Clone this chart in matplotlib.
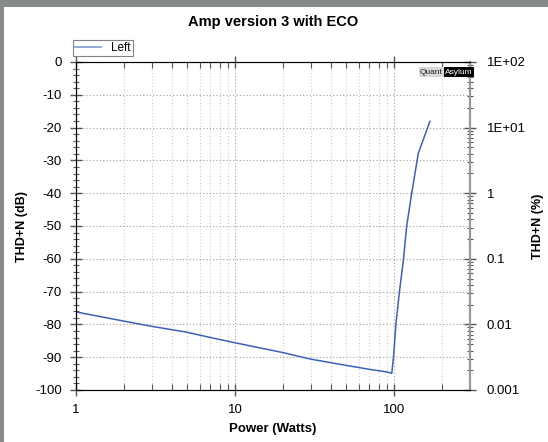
import numpy as np
import matplotlib
matplotlib.use("Agg")
import matplotlib.pyplot as plt
from matplotlib.ticker import FixedLocator, NullFormatter, FixedFormatter, LogLocator

plt.rcParams['font.family'] = ['Liberation Sans', 'DejaVu Sans']
plt.rcParams['axes.unicode_minus'] = False

power_w = [1, 2, 3, 5, 7, 10, 20, 30, 50, 70, 90, 96.7, 99.5, 102.4, 108, 114.5, 120, 129, 142, 168]
thd_db = [-76.2, -79.0, -80.6, -82.4, -84.0, -85.6, -88.6, -90.6, -92.5, -93.7, -94.5, -94.9,
          -89.0, -80.4, -70.0, -60.2, -50.0, -40.0, -27.8, -18.1]
series_name = "Left"
x_ticks = [1, 10, 100]
x_ticklabels = ["1", "10", "100"]
y_ticks = list(range(-100, 1, 10))
y_ticklabels = [str(v) for v in y_ticks]
pct_ticks = [0.001, 0.01, 0.1, 1, 10, 100]
pct_labels = ["0.001", "0.01", "0.1", "1", "1E+01", "1E+02"]

fig = plt.figure(figsize=(5.48, 4.42), dpi=100)
fig.patch.set_facecolor('#878b88')
fig.patches.append(matplotlib.patches.Rectangle((4/548, 0), 1, 1 - 7/442, transform=fig.transFigure,
                                                 facecolor='white', edgecolor='none', zorder=-10))

ax = fig.add_axes([76/548, 1 - 390/442, (470 - 76)/548, (390 - 62)/442])
ax.set_facecolor('none')
ax.set_xscale('log')
ax.set_xlim(1, 300)
ax.set_ylim(-100, 0)

line_col = '#3d60b8'
ax.plot(power_w, thd_db, color=line_col, lw=1.1, zorder=3)

ax.xaxis.set_major_locator(FixedLocator(x_ticks))
ax.xaxis.set_major_formatter(FixedFormatter(x_ticklabels))
ax.xaxis.set_minor_locator(LogLocator(base=10, subs=np.arange(2, 10)))
ax.xaxis.set_minor_formatter(NullFormatter())
ax.yaxis.set_major_locator(FixedLocator(y_ticks))
ax.yaxis.set_major_formatter(FixedFormatter(y_ticklabels))
ax.set_yticks(np.arange(-100, 1, 2), minor=True)
ax.grid(True, which='major', axis='both', color='#a0a0a0', linestyle=(0, (1, 2)), lw=0.8)
ax.grid(True, which='minor', axis='x', color='#cccccc', linestyle=(0, (1, 2)), lw=0.8)

tc = '#555555'
ax.tick_params(axis='both', which='major', direction='inout', length=8, width=1, color=tc,
               labelsize=9.5, pad=6, top=True)
ax.tick_params(axis='x', which='minor', direction='in', length=4, width=0.8, color=tc, top=True)
ax.tick_params(axis='y', which='minor', direction='inout', length=5, width=0.8, color=tc)
for side in ['left', 'bottom', 'top']:
    ax.spines[side].set_color('#666666')
ax.spines['right'].set_color('#999999')
ax.spines['right'].set_linewidth(1.5)

ax.set_xlabel('Power (Watts)', fontsize=9.5, fontweight='bold')
ax.xaxis.set_label_coords(0.5, -(423 - 390) / 328)
ax.set_ylabel('THD+N (dB)', fontsize=9, fontweight='bold', va='center')
ax.yaxis.set_label_coords((21.5 - 76) / 394, 0.5)

ax2 = ax.twinx()
ax2.set_yscale('log')
ax2.set_ylim(0.001, 100)
ax2.yaxis.set_major_locator(FixedLocator(pct_ticks))
ax2.yaxis.set_major_formatter(FixedFormatter(pct_labels))
ax2.yaxis.set_minor_locator(LogLocator(base=10, subs=np.arange(2, 10)))
ax2.yaxis.set_minor_formatter(NullFormatter())
ax2.tick_params(axis='y', which='major', direction='inout', length=8, width=1, color=tc,
                labelsize=9.5, pad=8)
ax2.tick_params(axis='y', which='minor', direction='inout', length=5, width=0.8, color=tc)
ax2.spines['right'].set_color('#999999')
ax2.spines['right'].set_linewidth(1.5)
ax2.set_ylabel('THD+N (%)', fontsize=9, fontweight='bold', va='center')
ax2.yaxis.set_label_coords((538 - 76) / 394, 0.5)

fig.text(273/548, 1 - 22/442, 'Amp version 3 with ECO', ha='center', va='center',
         fontsize=10.5, fontweight='bold')

leg = ax.legend([matplotlib.lines.Line2D([], [], color='#7f9ad0', lw=1.2)], [series_name],
                loc='lower left', bbox_to_anchor=(73/548, 1 - 56/442), bbox_transform=fig.transFigure,
                fontsize=8.5, frameon=True, fancybox=False, borderpad=0.15, handlelength=2.2,
                handletextpad=0.9, borderaxespad=0)
leg.get_frame().set_edgecolor('#666666')
leg.get_frame().set_linewidth(0.8)

fig.text(443/548, 1 - 72/442, 'Quant', ha='right', va='center', fontsize=6, color='#222222',
         bbox=dict(facecolor='#d8d8d8', edgecolor='none', pad=0.8))
fig.text(445/548, 1 - 72/442, 'Asylum', ha='left', va='center', fontsize=6, color='white',
         bbox=dict(facecolor='black', edgecolor='none', pad=0.8))

fig.savefig('out.png', dpi=100, facecolor=fig.get_facecolor())
